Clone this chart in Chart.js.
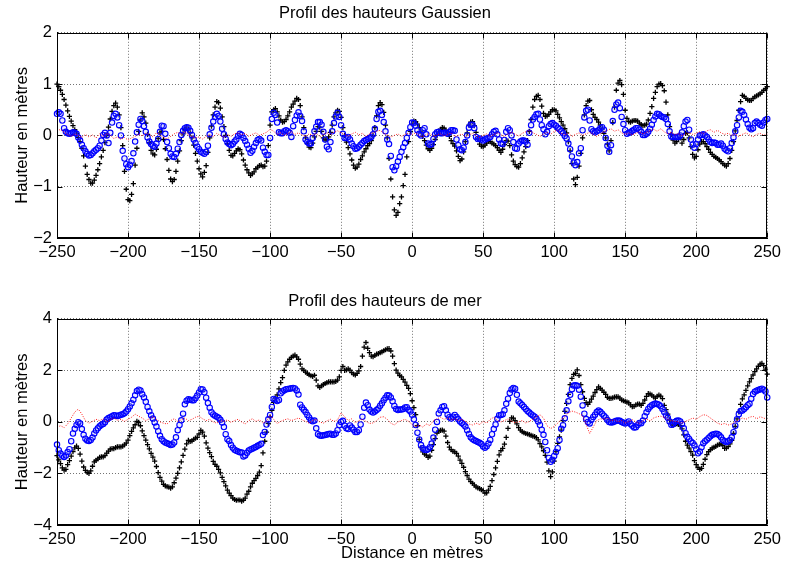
<!DOCTYPE html>
<html><head><meta charset="utf-8">
<script src="https://cdn.jsdelivr.net/npm/chart.js@4/dist/chart.umd.min.js"></script>
<style>
html,body{margin:0;padding:0;background:#fff;}
#wrap{position:relative;width:786px;height:566px;background:#fff;}
canvas{position:absolute;left:0;}
</style></head><body>
<div id="wrap">
<canvas id="c1" width="786" height="283" style="top:0px"></canvas>
<canvas id="c2" width="786" height="283" style="top:283px"></canvas>
</div>
<script>
// Distance sampling (metres), starting at -250
const distStart = -250;
const markerStep = 1.25;   // black '+' and blue 'o' series
const noiseStep = 2.5;     // red dotted series

// Top panel: "Profil des hauteurs Gaussien"
const gaussBlack = [
 1.00,0.95,0.88,0.80,0.70,0.59,0.48,0.37,0.28,0.19,0.11,0.04,-0.04,-0.12,-0.25,-0.40,-0.60,-0.76,-0.86,-0.93,
 -0.93,-0.87,-0.78,-0.67,-0.55,-0.42,-0.29,-0.14,0.00,0.16,0.32,0.47,0.58,0.63,0.55,0.40,0.15,-0.20,-0.70,-1.05,
 -1.25,-1.27,-1.15,-0.94,-0.58,-0.25,0.08,0.30,0.44,0.36,0.24,0.02,-0.14,-0.29,-0.36,-0.38,-0.27,-0.06,0.05,0.08,
 -0.08,-0.26,-0.47,-0.68,-0.85,-0.90,-0.86,-0.70,-0.50,-0.30,-0.10,0.03,0.12,0.16,0.12,0.05,-0.05,-0.19,-0.35,-0.50,
 -0.65,-0.75,-0.81,-0.72,-0.59,-0.33,-0.05,0.18,0.40,0.55,0.66,0.64,0.53,0.36,0.17,0.00,-0.16,-0.29,-0.39,-0.40,
 -0.35,-0.30,-0.26,-0.28,-0.36,-0.48,-0.58,-0.67,-0.73,-0.78,-0.75,-0.71,-0.65,-0.62,-0.59,-0.58,-0.61,-0.60,-0.50,-0.20,
 0.20,0.46,0.50,0.52,0.46,0.38,0.30,0.26,0.27,0.31,0.38,0.46,0.55,0.61,0.67,0.72,0.70,0.58,0.36,0.15,
 -0.05,-0.16,-0.23,-0.24,-0.15,-0.03,0.08,0.17,0.16,0.08,-0.05,-0.09,-0.08,-0.03,0.06,0.20,0.36,0.44,0.49,0.47,
 0.35,0.15,0.00,-0.13,-0.24,-0.36,-0.48,-0.58,-0.64,-0.62,-0.56,-0.47,-0.40,-0.32,-0.26,-0.20,-0.16,-0.10,0.00,0.15,
 0.38,0.58,0.64,0.60,0.45,0.20,-0.05,-0.45,-0.85,-1.20,-1.45,-1.56,-1.50,-1.33,-1.20,-0.98,-0.76,-0.42,-0.12,0.08,
 0.22,0.28,0.27,0.22,0.15,0.07,-0.02,-0.10,-0.19,-0.26,-0.29,-0.25,-0.18,-0.08,0.00,0.07,0.12,0.15,0.14,0.10,
 0.05,-0.02,-0.10,-0.16,-0.21,-0.30,-0.41,-0.49,-0.46,-0.32,-0.12,0.05,0.20,0.26,0.27,0.19,0.06,-0.07,-0.17,-0.21,
 -0.22,-0.19,-0.15,-0.11,-0.12,-0.15,-0.17,-0.20,-0.24,-0.29,-0.33,-0.27,-0.18,-0.10,-0.11,-0.20,-0.38,-0.50,-0.57,-0.61,
 -0.62,-0.55,-0.44,-0.32,-0.22,-0.10,0.08,0.31,0.55,0.70,0.76,0.78,0.70,0.57,0.43,0.37,0.38,0.41,0.46,0.50,
 0.50,0.48,0.41,0.34,0.27,0.20,0.13,0.05,-0.12,-0.30,-0.55,-0.85,-0.96,-0.82,-0.60,-0.35,-0.05,0.40,0.58,0.67,
 0.68,0.50,0.41,0.35,0.31,0.26,0.20,0.13,0.04,-0.05,-0.17,-0.30,-0.10,0.25,0.55,0.88,1.02,1.07,0.99,0.80,
 0.49,0.33,0.27,0.26,0.28,0.29,0.29,0.28,0.24,0.21,0.19,0.20,0.22,0.30,0.43,0.56,0.72,0.84,0.95,1.00,
 1.01,0.97,0.87,0.65,0.40,0.17,0.02,-0.09,-0.15,-0.12,-0.07,-0.05,-0.15,-0.08,0.04,0.05,-0.05,-0.22,-0.37,-0.44,
 -0.41,-0.28,-0.17,-0.12,-0.12,-0.16,-0.22,-0.27,-0.33,-0.37,-0.41,-0.43,-0.45,-0.48,-0.51,-0.55,-0.58,-0.60,-0.55,-0.45,
 -0.29,-0.12,0.09,0.29,0.49,0.66,0.78,0.76,0.72,0.69,0.68,0.68,0.72,0.75,0.77,0.79,0.81,0.84,0.88,0.91,
 0.95
];
const gaussBlue = [
 0.42,0.45,0.42,0.29,0.14,0.07,0.04,0.03,0.04,0.06,0.05,0.03,-0.04,-0.10,-0.18,-0.25,-0.31,-0.36,-0.39,-0.38,
 -0.35,-0.31,-0.28,-0.25,-0.20,-0.10,0.01,0.05,0.00,-0.15,0.05,0.25,0.38,0.42,0.35,0.20,0.00,-0.30,-0.45,-0.56,
 -0.62,-0.57,-0.50,-0.35,-0.12,0.06,0.21,0.32,0.28,0.18,0.07,-0.04,-0.12,-0.17,-0.20,-0.22,-0.16,-0.07,0.07,0.19,
 0.18,0.03,-0.13,-0.25,-0.36,-0.41,-0.42,-0.36,-0.26,-0.13,0.01,0.09,0.14,0.16,0.15,0.09,0.01,-0.08,-0.15,-0.22,
 -0.27,-0.32,-0.34,-0.36,-0.32,-0.20,0.02,0.15,0.27,0.36,0.42,0.38,0.27,0.13,0.02,-0.07,-0.14,-0.17,-0.19,-0.17,
 -0.12,-0.08,-0.01,0.03,0.01,-0.05,-0.11,-0.18,-0.26,-0.34,-0.30,-0.22,-0.15,-0.09,-0.07,-0.10,-0.24,-0.32,-0.38,-0.38,
 -0.05,0.32,0.44,0.40,0.25,0.06,0.04,0.04,0.08,0.10,0.08,0.05,-0.03,0.18,0.30,0.39,0.45,0.38,0.28,0.08,
 -0.08,-0.13,-0.16,-0.16,-0.05,0.08,0.17,0.26,0.26,0.21,0.07,-0.08,-0.22,-0.27,-0.13,0.08,0.24,0.37,0.44,0.36,
 0.20,0.03,-0.05,-0.05,-0.03,-0.08,-0.16,-0.21,-0.26,-0.25,-0.22,-0.18,-0.15,-0.11,-0.09,-0.07,-0.05,-0.03,0.02,0.13,
 0.32,0.46,0.48,0.40,0.26,0.08,-0.08,-0.17,-0.40,-0.62,-0.68,-0.60,-0.51,-0.42,-0.32,-0.23,-0.15,-0.05,0.05,0.16,
 0.25,0.24,0.19,0.10,0.03,0.00,0.10,0.14,0.02,-0.16,-0.18,-0.17,-0.07,0.02,0.06,0.07,0.04,0.04,0.05,0.05,
 0.03,0.06,0.10,0.10,0.09,-0.08,-0.19,-0.27,-0.29,-0.24,-0.13,0.00,0.15,0.21,0.21,0.14,-0.03,-0.07,-0.06,-0.08,
 -0.10,-0.08,-0.06,-0.05,-0.03,0.02,0.07,0.09,0.02,-0.08,-0.16,-0.17,-0.09,0.07,0.14,0.10,0.00,-0.13,-0.25,-0.26,
 -0.16,-0.12,-0.10,-0.10,-0.12,-0.18,0.05,0.20,0.31,0.36,0.41,0.42,0.31,0.20,0.12,0.02,0.07,0.18,0.22,0.24,
 0.21,0.19,0.15,0.12,0.08,0.04,-0.01,-0.06,-0.16,-0.27,-0.41,-0.53,-0.58,-0.52,-0.35,-0.25,0.10,0.35,0.48,0.50,
 0.29,0.12,0.08,0.06,0.08,0.10,0.14,0.16,0.11,-0.05,-0.20,-0.32,-0.19,0.28,0.50,0.60,0.64,0.53,0.36,0.22,
 0.10,0.03,0.05,0.06,0.09,0.11,0.14,0.14,0.11,0.07,0.01,0.01,0.03,0.07,0.13,0.21,0.30,0.37,0.42,0.41,
 0.38,0.36,0.35,0.32,0.22,0.08,-0.02,-0.03,-0.03,-0.03,-0.03,0.00,0.06,0.18,0.27,0.30,0.11,-0.08,-0.18,-0.24,
 -0.17,-0.08,0.00,0.01,0.02,0.00,-0.03,-0.08,-0.13,-0.15,-0.14,-0.15,-0.18,-0.18,-0.16,-0.20,-0.26,-0.29,-0.31,-0.25,
 -0.15,-0.04,0.08,0.20,0.35,0.48,0.46,0.40,0.31,0.22,0.15,0.12,0.14,0.24,0.27,0.24,0.21,0.19,0.25,0.30,
 0.32
];
const gaussRed = [
 0.08,0.12,0.06,0.02,-0.02,0.03,0.00,-0.04,0.02,-0.03,
 0.01,-0.05,0.03,-0.02,0.04,0.00,-0.06,-0.03,-0.08,-0.04,
 -0.09,-0.05,-0.02,0.03,-0.01,0.04,0.02,-0.03,0.05,0.01,
 -0.04,-0.07,-0.02,0.03,0.06,0.02,0.07,0.01,-0.02,-0.05,
 -0.03,-0.07,-0.02,0.02,-0.03,0.04,0.00,-0.04,0.02,-0.02,
 0.03,0.05,0.01,0.04,-0.02,0.02,0.05,0.00,0.03,0.06,
 0.12,0.08,0.02,0.05,0.00,0.04,0.07,0.02,0.05,0.01,
 -0.02,0.03,0.00,0.04,-0.03,0.02,0.05,0.01,0.06,0.09,
 0.05,0.02,-0.02,0.03,0.06,0.01,0.04,-0.02,0.03,0.05,
 0.08,0.10,0.04,0.01,-0.03,0.00,0.03,-0.02,0.02,0.04,
 0.02,0.05,0.00,-0.03,0.02,0.04,-0.02,0.01,0.03,-0.01,
 0.02,0.05,-0.02,0.00,0.03,-0.03,0.01,0.04,0.00,-0.04,
 0.00,0.03,-0.02,0.02,0.05,0.01,-0.02,0.03,0.06,0.02,
 -0.01,0.04,0.07,0.10,0.05,0.02,-0.02,0.03,0.06,0.02,
 0.08,0.10,0.04,0.01,0.04,-0.02,0.02,0.05,0.00,0.03,
 0.06,0.02,-0.02,0.03,0.07,0.10,0.13,0.08,0.11,0.05,
 0.02,0.05,0.01,0.04,0.07,0.03,0.06,0.09,0.12,0.08,
 0.13,0.07,0.03,0.06,0.01,0.04,-0.01,0.03,0.05,0.02,
 0.04,0.07,0.03,0.09,0.11,0.06,0.10,0.05,0.02,0.04,
 0.00,0.03,-0.02,0.02,0.05,0.01,-0.03,0.02,0.04,0.00,
 0.03
];

// Bottom panel: "Profil des hauteurs de mer"
const merBlack = [
 -1.31,-1.47,-1.62,-1.78,-1.87,-1.84,-1.66,-1.50,-1.33,-1.15,-1.01,-0.94,-1.03,-1.25,-1.52,-1.75,-1.88,-1.96,-2.00,-1.90,
 -1.72,-1.55,-1.49,-1.44,-1.38,-1.36,-1.36,-1.31,-1.21,-1.13,-1.06,-1.04,-1.04,-1.00,-0.97,-0.97,-0.97,-0.94,-0.89,-0.82,
 -0.71,-0.53,-0.37,-0.23,-0.11,0.02,-0.02,-0.15,-0.35,-0.53,-0.71,-0.88,-1.05,-1.22,-1.37,-1.52,-1.73,-1.97,-2.15,-2.30,
 -2.42,-2.48,-2.51,-2.53,-2.57,-2.52,-2.36,-2.18,-2.00,-1.78,-1.55,-1.30,-1.06,-0.85,-0.72,-0.76,-0.74,-0.68,-0.63,-0.60,
 -0.47,-0.33,-0.40,-0.55,-0.81,-1.02,-1.19,-1.35,-1.53,-1.65,-1.72,-1.84,-1.98,-2.15,-2.32,-2.48,-2.65,-2.76,-2.86,-2.96,
 -3.01,-3.04,-3.03,-3.03,-3.07,-3.04,-2.96,-2.80,-2.69,-2.52,-2.38,-2.28,-2.19,-2.08,-1.95,-1.70,-1.20,-0.75,-0.40,-0.06,
 0.19,0.45,0.76,0.92,1.05,1.28,1.52,1.72,2.00,2.20,2.33,2.43,2.50,2.55,2.59,2.52,2.43,2.24,2.06,2.00,
 1.93,1.88,1.83,1.79,1.77,1.81,1.62,1.40,1.34,1.40,1.45,1.49,1.52,1.55,1.55,1.55,1.55,1.57,1.62,1.75,
 2.00,2.15,2.00,2.02,2.06,2.01,1.91,1.85,1.82,1.88,1.98,2.15,2.55,2.90,3.08,2.85,2.69,2.55,2.53,2.58,
 2.63,2.65,2.69,2.72,2.76,2.80,2.83,2.84,2.75,2.55,2.26,2.01,1.89,1.80,1.75,1.65,1.54,1.42,1.30,1.10,
 0.82,0.55,0.28,-0.15,-0.68,-1.00,-1.16,-1.25,-1.29,-1.38,-1.33,-1.10,-0.88,-0.65,-0.43,-0.36,-0.33,-0.32,-0.36,-0.55,
 -0.80,-0.98,-1.08,-1.14,-1.16,-1.22,-1.33,-1.48,-1.61,-1.76,-1.93,-2.08,-2.22,-2.32,-2.38,-2.45,-2.52,-2.56,-2.59,-2.63,
 -2.67,-2.76,-2.75,-2.65,-2.50,-2.28,-2.04,-1.78,-1.53,-1.28,-1.12,-1.03,-0.86,-0.60,-0.25,0.02,0.16,0.15,0.05,-0.08,
 -0.22,-0.32,-0.38,-0.42,-0.45,-0.47,-0.49,-0.52,-0.55,-0.57,-0.61,-0.70,-0.84,-0.97,-1.12,-1.30,-1.56,-1.90,-2.12,-1.94,
 -1.52,-1.15,-0.83,-0.58,-0.32,0.05,0.41,0.72,1.07,1.45,1.69,1.84,1.88,2.02,1.80,1.45,1.17,0.91,0.75,0.68,
 0.77,0.88,1.00,1.14,1.25,1.36,1.30,1.23,1.15,1.07,0.95,0.91,0.91,0.93,0.96,0.97,0.97,0.92,0.85,0.82,
 0.80,0.77,0.74,0.66,0.59,0.60,0.66,0.69,0.69,0.64,0.72,0.85,0.99,1.10,1.08,1.04,0.97,0.92,0.99,1.04,
 1.00,0.90,0.64,0.48,0.30,0.08,-0.05,-0.13,-0.10,-0.07,-0.10,-0.15,-0.27,-0.50,-0.75,-0.90,-1.02,-1.15,-1.29,-1.50,
 -1.66,-1.77,-1.84,-1.80,-1.65,-1.45,-1.27,-1.15,-1.08,-1.02,-0.99,-0.95,-0.90,-0.87,-0.85,-0.92,-1.03,-1.02,-0.96,-0.85,
 -0.72,-0.45,-0.17,0.12,0.39,0.68,0.89,1.05,1.22,1.40,1.55,1.68,1.82,1.95,2.06,2.16,2.24,2.27,2.18,2.05,
 1.85
];
const merBlue = [
 -0.88,-1.10,-1.23,-1.31,-1.36,-1.30,-1.17,-1.06,-0.75,-0.45,-0.27,-0.12,-0.01,-0.06,-0.28,-0.50,-0.65,-0.72,-0.74,-0.70,
 -0.61,-0.45,-0.33,-0.25,-0.17,-0.11,-0.08,-0.01,0.09,0.15,0.18,0.22,0.26,0.25,0.23,0.25,0.28,0.30,0.34,0.40,
 0.49,0.60,0.72,0.86,1.03,1.20,1.25,1.22,1.07,0.95,0.78,0.58,0.41,0.26,0.13,-0.02,-0.18,-0.36,-0.54,-0.67,
 -0.75,-0.80,-0.83,-0.86,-0.90,-0.88,-0.80,-0.60,-0.32,-0.12,0.06,0.32,0.68,0.82,0.88,0.86,0.84,0.84,0.92,1.02,
 1.14,1.27,1.26,1.15,0.94,0.73,0.55,0.37,0.29,0.24,0.20,0.16,0.08,-0.02,-0.20,-0.48,-0.67,-0.74,-0.90,-1.00,
 -1.08,-1.12,-1.15,-1.18,-1.19,-1.34,-1.30,-1.20,-1.11,-1.07,-1.04,-1.00,-0.97,-0.93,-0.90,-0.85,-0.51,-0.39,-0.10,0.10,
 0.27,0.58,0.89,0.86,0.81,0.85,1.11,1.18,1.23,1.27,1.28,1.29,1.31,1.32,1.30,1.22,1.06,0.67,0.56,0.47,
 0.38,0.27,0.17,0.06,0.03,0.05,-0.25,-0.48,-0.53,-0.54,-0.52,-0.51,-0.49,-0.47,-0.46,-0.50,-0.50,-0.45,-0.32,-0.12,
 0.00,0.04,-0.15,-0.25,-0.28,-0.14,-0.22,-0.30,-0.39,-0.39,-0.32,-0.10,0.20,0.55,0.75,0.65,0.48,0.40,0.36,0.40,
 0.46,0.52,0.63,0.72,0.84,0.94,1.03,1.02,0.95,0.80,0.62,0.50,0.46,0.48,0.48,0.50,0.56,0.57,0.47,0.40,
 0.28,0.10,-0.12,-0.42,-0.68,-0.90,-1.02,-1.08,-1.09,-1.06,-0.98,-0.84,-0.61,-0.30,0.00,0.33,0.45,0.58,0.61,0.45,
 0.28,0.18,0.13,0.20,0.27,0.19,0.10,0.02,-0.04,-0.10,-0.18,-0.32,-0.47,-0.60,-0.66,-0.71,-0.74,-0.78,-0.81,-0.86,
 -0.95,-1.00,-0.94,-0.84,-0.70,-0.48,-0.28,-0.10,0.12,0.26,0.27,0.30,0.45,0.70,0.90,1.12,1.26,1.32,1.29,1.05,
 0.79,0.72,0.66,0.58,0.50,0.42,0.36,0.30,0.25,0.20,0.12,0.02,-0.12,-0.30,-0.50,-0.78,-1.10,-1.40,-1.55,-1.47,
 -1.32,-1.17,-1.02,-0.70,-0.27,-0.13,0.14,0.45,0.80,1.05,1.27,1.41,1.42,1.40,1.25,0.98,0.64,0.32,0.11,0.00,
 -0.06,0.08,0.19,0.28,0.38,0.44,0.39,0.32,0.24,0.17,0.07,0.00,-0.02,-0.01,0.02,0.04,0.05,0.04,0.00,-0.03,
 -0.06,-0.02,0.02,-0.08,-0.15,-0.22,-0.21,-0.12,-0.04,-0.05,0.05,0.22,0.37,0.50,0.59,0.65,0.68,0.71,0.69,0.67,
 0.61,0.50,0.38,0.25,0.16,0.02,-0.11,-0.09,0.00,0.04,0.05,0.02,-0.08,-0.25,-0.44,-0.58,-0.66,-0.76,-0.82,-0.92,
 -1.06,-1.22,-1.15,-0.98,-0.83,-0.75,-0.69,-0.62,-0.56,-0.50,-0.48,-0.46,-0.47,-0.52,-0.60,-0.70,-0.75,-0.78,-0.75,-0.70,
 -0.60,-0.40,-0.15,0.10,0.30,0.42,0.44,0.50,0.57,0.65,0.70,0.90,1.08,1.17,1.21,1.24,1.27,1.29,1.25,1.18,
 0.95
];
const merRed = [
 -0.20,-0.15,-0.22,-0.08,0.15,0.38,0.50,0.30,0.05,-0.05,
 0.02,0.10,0.05,0.12,0.00,0.08,0.15,0.06,0.10,0.02,
 0.10,0.18,0.30,0.22,0.15,0.05,0.12,0.20,0.10,0.00,
 -0.05,-0.08,0.05,0.12,0.02,0.08,0.15,0.05,0.10,0.18,
 0.22,0.12,0.05,0.10,0.00,-0.05,0.05,0.02,0.08,-0.02,
 0.05,0.10,0.00,-0.08,0.05,0.12,0.02,0.08,-0.05,0.03,
 0.26,0.10,-0.06,0.02,0.08,0.12,0.05,0.10,0.15,0.08,
 0.02,-0.05,0.05,0.10,0.00,-0.05,0.04,0.10,0.02,0.08,
 0.35,0.20,0.05,0.12,-0.03,0.05,0.10,0.02,-0.06,-0.04,
 0.05,0.18,0.20,0.10,-0.05,-0.12,0.00,0.05,0.10,0.02,
 -0.10,-0.18,-0.12,-0.20,-0.08,-0.14,0.05,0.12,0.18,0.10,
 0.15,0.08,0.12,0.05,0.10,0.02,-0.08,-0.12,-0.05,-0.10,
 0.02,-0.05,0.10,0.18,0.06,0.00,0.05,0.12,0.02,-0.03,
 0.00,0.05,-0.04,0.02,0.10,0.20,0.28,0.15,-0.15,-0.26,
 -0.18,-0.05,0.10,0.20,0.35,0.42,0.38,0.32,0.25,-0.10,
 -0.45,-0.20,0.05,0.12,0.10,0.15,0.05,0.08,0.00,0.05,
 -0.05,0.02,0.08,0.00,-0.06,0.05,0.12,0.04,0.15,0.20,
 0.22,0.18,0.10,0.05,0.02,0.00,-0.05,0.02,0.08,0.15,
 0.10,0.20,0.28,0.25,0.15,0.05,-0.05,-0.10,-0.06,-0.12,
 -0.08,0.00,0.08,0.15,0.10,0.18,0.22,0.12,0.20,0.15,
 0.10
];

const titles = ['Profil des hauteurs Gaussien', 'Profil des hauteurs de mer'];
const xAxisLabel = 'Distance en mètres';
const yAxisLabel = 'Hauteur en mètres';
const xRange = [-250, 250], xTickStep = 50;
const yRangeTop = [-2, 2], yStepTop = 1;
const yRangeBottom = [-4, 4], yStepBottom = 2;

const FONT_FAMILY = "'Liberation Sans', Arial, Helvetica, sans-serif";
const FS = 16.5;

function toPoints(vals, step) {
  return vals.map((v, i) => ({ x: distStart + i * step, y: v }));
}
function fmt(v) { return v < 0 ? '\u2212' + Math.abs(v) : String(v); }

const boxPlugin = {
  id: 'matlabBox',
  afterDraw(chart) {
    const ctx = chart.ctx;
    const a = chart.chartArea;
    const L = Math.round(a.left) + 0.5, R = Math.round(a.right) - 0.5;
    const T = Math.round(a.top) + 0.5, B = Math.round(a.bottom) - 0.5;
    ctx.save();
    ctx.setLineDash([]);
    ctx.strokeStyle = '#000';
    ctx.lineWidth = 1;
    ctx.strokeRect(L, T, R - L, B - T);
    const tl = 5;
    ctx.beginPath();
    chart.scales.x.ticks.forEach(t => {
      const px = Math.round(chart.scales.x.getPixelForValue(t.value)) + 0.5;
      ctx.moveTo(px, B); ctx.lineTo(px, B - tl);
      ctx.moveTo(px, T); ctx.lineTo(px, T + tl);
    });
    chart.scales.y.ticks.forEach(t => {
      const py = Math.round(chart.scales.y.getPixelForValue(t.value)) + 0.5;
      ctx.moveTo(L, py); ctx.lineTo(L + tl, py);
      ctx.moveTo(R, py); ctx.lineTo(R - tl, py);
    });
    ctx.stroke();
    ctx.restore();
  }
};

function makeChart(id, cfg) {
  const font = { family: FONT_FAMILY, size: FS };
  return new Chart(document.getElementById(id), {
    type: 'scatter',
    data: {
      datasets: [
        { label: 'r', data: toPoints(cfg.red, noiseStep), showLine: true, borderColor: 'rgba(255,0,0,0.9)',
          borderWidth: 1, borderDash: [1, 1.5], pointRadius: 0, order: 0, clip: 2 },
        { label: 'b', data: toPoints(cfg.blue, markerStep), pointStyle: 'circle', pointRadius: 2.7,
          pointBorderColor: '#0000ff', pointBackgroundColor: 'rgba(120,120,255,0.15)',
          pointBorderWidth: 1.1, borderColor: '#0000ff', order: 1, clip: 4 },
        { label: 'k', data: toPoints(cfg.black, markerStep), pointStyle: 'cross', pointRadius: 2.6,
          pointBorderColor: '#000', pointBorderWidth: 1.3, borderColor: '#000', order: 2, clip: 4 }
      ]
    },
    options: {
      responsive: false, animation: false, devicePixelRatio: 1, events: [],
      layout: { padding: { left: 0, right: 16, top: 0, bottom: 0 } },
      plugins: {
        legend: { display: false }, tooltip: { enabled: false },
        title: { display: true, text: cfg.title, color: '#000', font: { ...font, weight: 'normal' },
          padding: cfg.titlePad }
      },
      scales: {
        x: {
          type: 'linear', min: xRange[0], max: xRange[1],
          ticks: { stepSize: xTickStep, color: '#000', font, padding: 5, maxRotation: 0, callback: v => fmt(v) },
          grid: { color: 'rgba(0,0,0,0.55)', lineWidth: 1, drawTicks: false },
          border: { display: true, color: '#000', dash: [1, 2] },
          title: { display: cfg.showXTitle, text: xAxisLabel, color: '#000', font, padding: { top: 0, bottom: 3 } },
          afterFit(s) { s.height = cfg.xAxisH; }
        },
        y: {
          type: 'linear', min: cfg.yRange[0], max: cfg.yRange[1],
          ticks: { stepSize: cfg.yStep, color: '#000', font, padding: 5, callback: v => fmt(v) },
          grid: { color: 'rgba(0,0,0,0.55)', lineWidth: 1, drawTicks: false },
          border: { display: true, color: '#000', dash: [1, 2] },
          title: { display: true, text: yAxisLabel, color: '#000', font, padding: { top: 13, bottom: 0 } },
          afterFit(s) { s.width = 57; }
        }
      }
    },
    plugins: [boxPlugin]
  });
}

makeChart('c1', { title: titles[0], titlePad: { top: 4, bottom: 9 }, black: gaussBlack, blue: gaussBlue, red: gaussRed,
  yRange: yRangeTop, yStep: yStepTop, xAxisH: 45, showXTitle: false });
makeChart('c2', { title: titles[1], titlePad: { top: 9, bottom: 7 }, black: merBlack, blue: merBlue, red: merRed,
  yRange: yRangeBottom, yStep: yStepBottom, xAxisH: 41, showXTitle: true });
</script>
</body></html>
